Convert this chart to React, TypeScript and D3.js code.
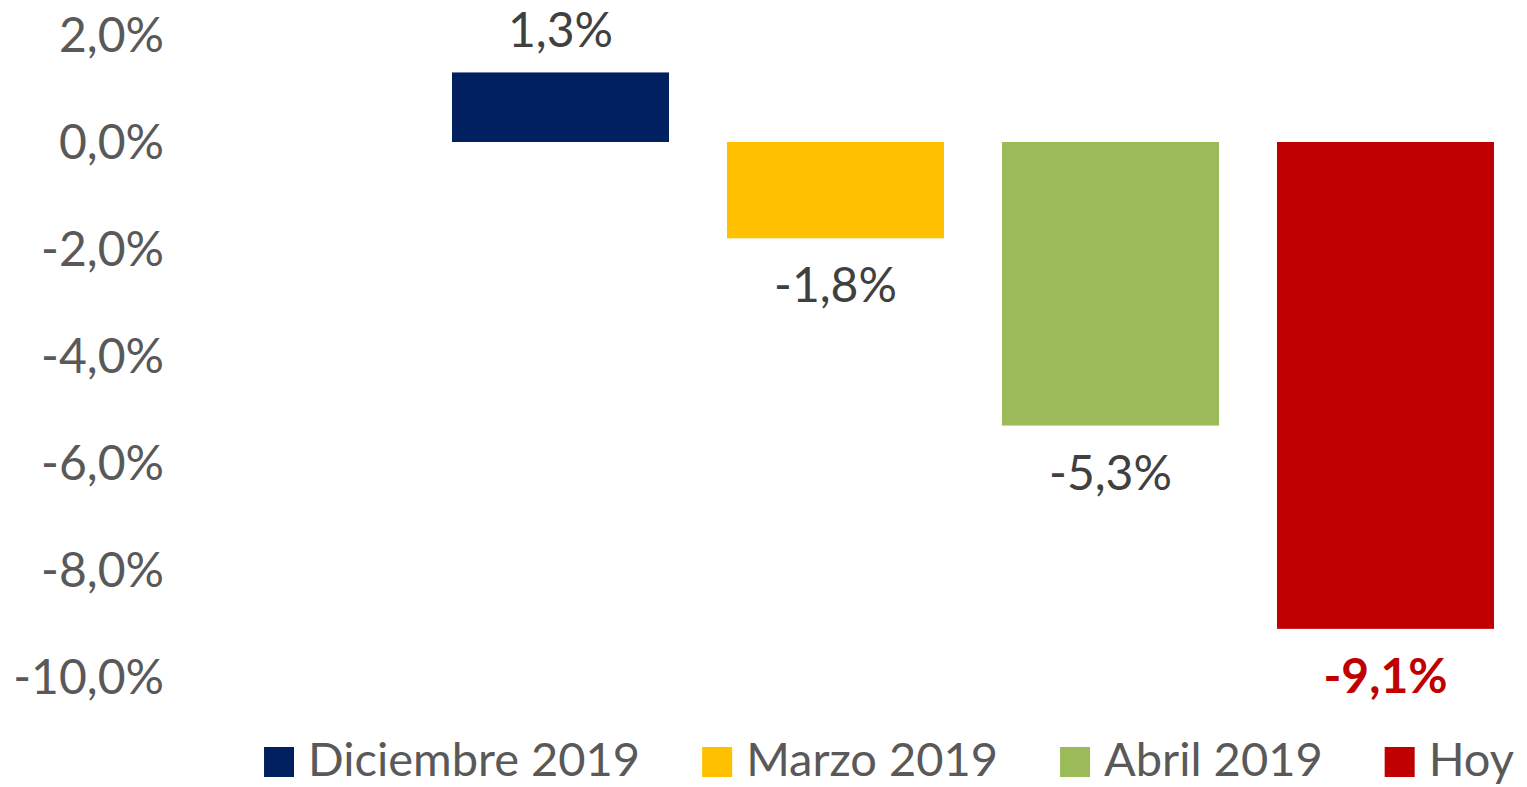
import React, { useEffect, useRef } from "react";
import * as d3 from "d3";

const categories = ["Diciembre 2019", "Marzo 2019", "Abril 2019", "Hoy"];
const values = [1.3, -1.8, -5.3, -9.1];
const colors = ["#002060", "#FFC000", "#9BBB59", "#C00000"];
const yTicks = [2, 0, -2, -4, -6, -8, -10];

const W = 1527;
const H = 787;
const FONT = "Lato, 'Open Sans', sans-serif";

export default function App() {
  const ref = useRef<SVGSVGElement>(null);

  useEffect(() => {
    const svg = d3.select(ref.current);
    svg.selectAll("*").remove();

    const y = d3.scaleLinear().domain([-10, 2]).range([677, 35]);
    const x = d3
      .scaleBand<string>()
      .domain(categories)
      .range([423, 1523])
      .paddingInner(58 / 275)
      .paddingOuter(29 / 275);

    const fmt = (v: number) => v.toFixed(1).replace(".", ",") + "%";

    // y axis labels
    svg
      .append("g")
      .selectAll("text")
      .data(yTicks)
      .join("text")
      .attr("x", 164)
      .attr("y", (d) => y(d))
      .attr("dy", "0.35em")
      .attr("text-anchor", "end")
      .attr("font-family", FONT)
      .attr("font-size", 48)
      .attr("fill", "#595959")
      .text((d) => fmt(d));

    // bars
    svg
      .append("g")
      .selectAll("rect")
      .data(values)
      .join("rect")
      .attr("x", (_, i) => x(categories[i])!)
      .attr("width", x.bandwidth())
      .attr("y", (d) => y(Math.max(0, d)))
      .attr("height", (d) => Math.abs(y(d) - y(0)))
      .attr("fill", (_, i) => colors[i]);

    // data labels
    svg
      .append("g")
      .selectAll("text")
      .data(values)
      .join("text")
      .attr("x", (_, i) => x(categories[i])! + x.bandwidth() / 2)
      .attr("y", (d) => (d >= 0 ? y(d) - 25 : y(d) + 64))
      .attr("text-anchor", "middle")
      .attr("font-family", FONT)
      .attr("font-size", 48)
      .attr("font-weight", (_, i) => (i === 3 ? 700 : 400))
      .attr("fill", (_, i) => (i === 3 ? "#C00000" : "#404040"))
      .text((d) => fmt(d));

    // legend
    const lg = svg.append("g");
    const items = lg.selectAll("g").data(categories).join("g");
    items
      .append("rect")
      .attr("width", 30)
      .attr("height", 30)
      .attr("y", 747)
      .attr("fill", (_, i) => colors[i]);
    const texts = items
      .append("text")
      .attr("x", 44)
      .attr("y", 760)
      .attr("dy", "0.35em")
      .attr("font-family", FONT)
      .attr("font-size", 47)
      .attr("fill", "#595959")
      .text((d) => d);
    const widths: number[] = [];
    texts.each(function () {
      widths.push((this as SVGTextElement).getComputedTextLength());
    });
    const gap = 62;
    const itemW = widths.map((w) => 44 + w);
    const total = d3.sum(itemW) + gap * (itemW.length - 1);
    let cx = 889 - total / 2;
    items.attr("transform", (_, i) => {
      const t = `translate(${cx},0)`;
      cx += itemW[i] + gap;
      return t;
    });
  }, []);

  return (
    <svg
      ref={ref}
      width={W}
      height={H}
      style={{ position: "absolute", left: 0, top: 0, background: "#fff" }}
    />
  );
}
